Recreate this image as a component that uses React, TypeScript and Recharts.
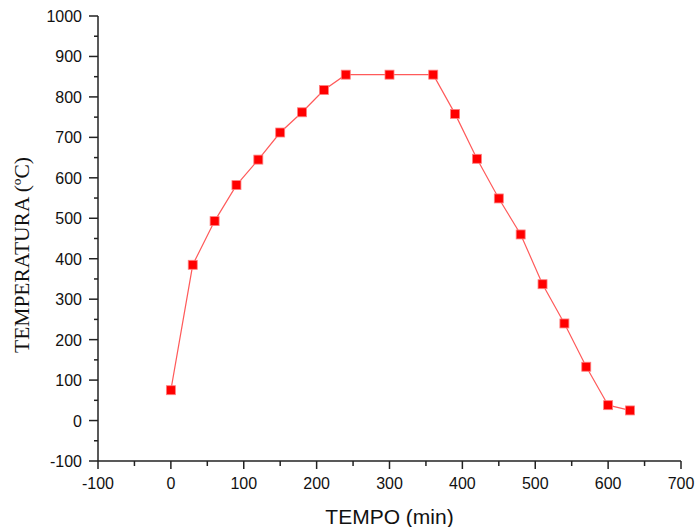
import { LineChart, Line, XAxis, YAxis, Label } from "recharts";

// tempo (min) e temperatura (ºC)
const tempo = [0, 30, 60, 90, 120, 150, 180, 210, 240, 300, 360, 390, 420, 450, 480, 510, 540, 570, 600, 630];
const temperatura = [75, 385, 493, 582, 645, 712, 762, 817, 855, 855, 855, 758, 647, 549, 460, 337, 240, 133, 38, 25];

const xTicks = [-100, -50, 0, 50, 100, 150, 200, 250, 300, 350, 400, 450, 500, 550, 600, 650, 700];
const yTicks = [-100, -50, 0, 50, 100, 150, 200, 250, 300, 350, 400, 450, 500, 550, 600, 650, 700, 750, 800, 850, 900, 950, 1000];

const data = tempo.map((t, i) => ({ tempo: t, temp: temperatura[i] }));

const tickFont = "Arial, 'Liberation Sans', sans-serif";

// ticks desenhados à mão: maiores com rótulo, menores sem
const XTick = (props: any) => {
  const { x, y, payload } = props;
  const major = payload.value % 100 === 0;
  return (
    <g>
      <line x1={x} y1={y} x2={x} y2={y + (major ? 8 : 5)} stroke="#222" strokeWidth={1.5} />
      {major && (
        <text x={x} y={y + 28} textAnchor="middle" fontSize={16} fontFamily={tickFont} fill="#111">
          {payload.value}
        </text>
      )}
    </g>
  );
};

const YTick = (props: any) => {
  const { x, y, payload } = props;
  const major = payload.value % 100 === 0;
  return (
    <g>
      <line x1={x} y1={y} x2={x - (major ? 9 : 4)} y2={y} stroke="#222" strokeWidth={1.5} />
      {major && (
        <text x={x - 16} y={y + 6} textAnchor="end" fontSize={16} fontFamily={tickFont} fill="#111">
          {payload.value}
        </text>
      )}
    </g>
  );
};

// rótulo do eixo Y (fonte serifada, um pouco abaixo do centro)
const YLabel = () => (
  <text
    transform="translate(29,255) rotate(-90)"
    textAnchor="middle"
    fontSize={21.5}
    fontFamily="'Liberation Serif', 'Times New Roman', serif"
    fill="#111"
  >
    TEMPERATURA (ºC)
  </text>
);

// marcador quadrado vermelho
const SquareDot = (props: any) => {
  const { cx, cy } = props;
  if (cx == null || cy == null) return null;
  return <rect x={cx - 4.5} y={cy - 4.5} width={9} height={9} fill="#ff0000" stroke="#ff8080" strokeWidth={0.8} />;
};

const App = () => {
  return (
    <div style={{ position: "absolute", left: 0, top: 0, width: 696, height: 527, background: "#fff" }}>
      <LineChart width={696} height={527} data={data} margin={{ top: 16, right: 15, left: 0, bottom: 0 }}>
        <XAxis
          dataKey="tempo"
          type="number"
          domain={[-100, 700]}
          ticks={xTicks}
          interval={0}
          height={66}
          axisLine={{ stroke: "#222", strokeWidth: 1.5 }}
          tickLine={false}
          tickSize={0}
          tickMargin={0}
          tick={<XTick />}
        >
          <Label
            value="TEMPO (min)"
            position="insideBottom"
            offset={3}
            style={{ fontSize: 21, fontFamily: tickFont, fill: "#111" }}
          />
        </XAxis>
        <YAxis
          type="number"
          domain={[-100, 1000]}
          ticks={yTicks}
          interval={0}
          width={98}
          axisLine={{ stroke: "#222", strokeWidth: 1.5 }}
          tickLine={false}
          tickSize={0}
          tickMargin={0}
          tick={<YTick />}
        >
          <Label content={<YLabel />} />
        </YAxis>
        <Line
          dataKey="temp"
          type="linear"
          stroke="#ff5a5a"
          strokeWidth={1.2}
          dot={<SquareDot />}
          activeDot={false}
          isAnimationActive={false}
        />
      </LineChart>
    </div>
  );
};

export default App;
